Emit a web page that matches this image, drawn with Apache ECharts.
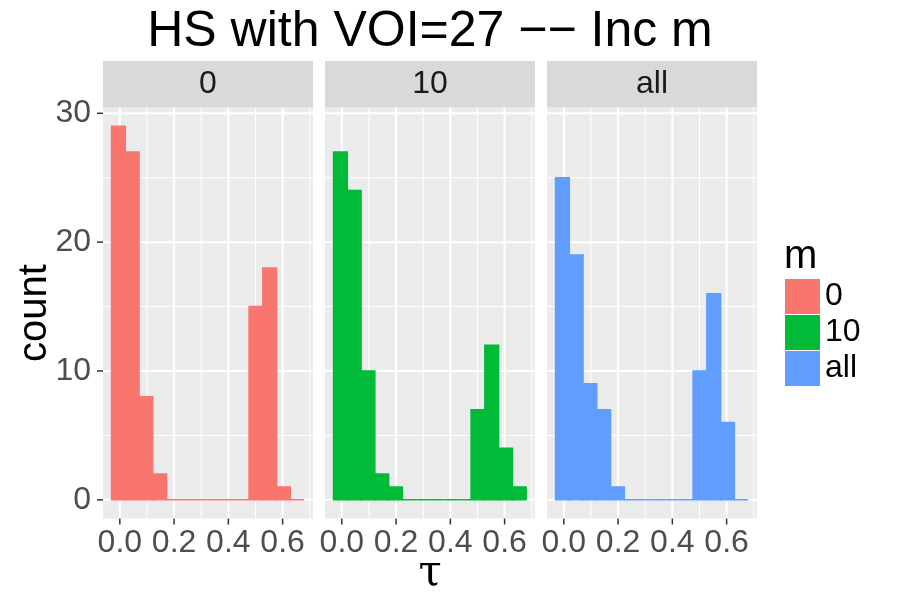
<!DOCTYPE html>
<html>
<head>
<meta charset="utf-8">
<title>HS with VOI=27 -- Inc m</title>
<script src="https://cdn.jsdelivr.net/npm/echarts@6/dist/echarts.min.js"></script>
<style>
  html, body { margin: 0; padding: 0; background: #ffffff; }
  #chart { width: 900px; height: 600px; }
</style>
</head>
<body>
<div id="chart"></div>
<script>
const mLevels = ['0', '10', 'all']
const binEdges = [-0.0305, 0.0202, 0.0709, 0.1216, 0.1723, 0.2230, 0.2737, 0.3244,
  0.3751, 0.4258, 0.4765, 0.5272, 0.5779, 0.6286, 0.6793]
const counts0 = [29, 27, 8, 2, 0, 0, 0, 0, 0, 0, 15, 18, 1, 0]
const counts10 = [27, 24, 10, 2, 1, 0, 0, 0, 0, 0, 7, 12, 4, 1]
const countsAll = [25, 19, 9, 7, 1, 0, 0, 0, 0, 0, 10, 16, 6, 0]
const xBreaks = [0, 0.2, 0.4, 0.6]
const xMinorBreaks = [0.1, 0.3, 0.5, 0.7]
const yBreaks = [0, 10, 20, 30]
const yMinorBreaks = [5, 15, 25]

const COUNTS = [counts0, counts10, countsAll]
const FILLS = ['#F8766D', '#00BA38', '#619CFF']
const FONT = '"Liberation Sans", Arial, Helvetica, sans-serif'
const PANEL_BG = '#EBEBEB'
const STRIP_BG = '#D9D9D9'
const AXIS_TEXT = '#4D4D4D'
const TICK_COLOR = '#333333'

const X_MIN = -0.062
const X_MAX = 0.712
const Y_MIN = -1.45
const Y_MAX = 30.45

const PANEL_LEFT = [103, 325, 547]
const PANEL_WIDTH = 210
const PANEL_TOP = 107.5
const PANEL_HEIGHT = 411
const STRIP_TOP = 61
const TICK_LEN = 6

const isBreak = (v, step) => Math.abs(v / step - Math.round(v / step)) < 1e-6

function renderDeco(panelIndex) {
  return function (params, api) {
    const kind = api.value(0)
    const v = api.value(1)
    const major = kind === 0 || kind === 2
    const gridStyle = { stroke: '#ffffff', lineWidth: major ? 2 : 1 }
    const children = []

    if (kind === 0 || kind === 1) {
      const p = api.coord([v, Y_MIN])
      const q = api.coord([v, Y_MAX])
      children.push({ type: 'line', shape: { x1: p[0], y1: p[1], x2: q[0], y2: q[1] }, style: gridStyle })
      if (major) {
        children.push({
          type: 'line',
          shape: { x1: p[0], y1: p[1], x2: p[0], y2: p[1] + TICK_LEN },
          style: { stroke: TICK_COLOR, lineWidth: 1.5 }
        })
      }
    } else {
      const p = api.coord([X_MIN, v])
      const q = api.coord([X_MAX, v])
      children.push({ type: 'line', shape: { x1: p[0], y1: p[1], x2: q[0], y2: q[1] }, style: gridStyle })
      if (major && panelIndex === 0) {
        children.push({
          type: 'line',
          shape: { x1: p[0] - TICK_LEN, y1: p[1], x2: p[0], y2: p[1] },
          style: { stroke: TICK_COLOR, lineWidth: 1.5 }
        })
      }
    }
    return { type: 'group', children }
  }
}

function renderBar(color) {
  return function (params, api) {
    const p0 = api.coord([api.value(0), 0])
    const p1 = api.coord([api.value(1), api.value(2)])
    return {
      type: 'rect',
      shape: { x: p0[0], y: p1[1], width: p1[0] - p0[0], height: p0[1] - p1[1] },
      style: { fill: color, stroke: color, lineWidth: 1.5 }
    }
  }
}

const decoData = [
  ...xBreaks.map(v => [0, v]),
  ...xMinorBreaks.map(v => [1, v]),
  ...yBreaks.map(v => [2, v]),
  ...yMinorBreaks.map(v => [3, v])
]

const grids = []
const xAxes = []
const yAxes = []
const series = []
const graphics = []

mLevels.forEach((level, i) => {
  grids.push({
    left: PANEL_LEFT[i],
    top: PANEL_TOP,
    width: PANEL_WIDTH,
    height: PANEL_HEIGHT,
    show: true,
    backgroundColor: PANEL_BG,
    borderWidth: 0
  })

  xAxes.push({
    type: 'value',
    gridIndex: i,
    min: X_MIN,
    max: X_MAX,
    splitNumber: 4,
    axisLine: { show: false },
    axisTick: { show: false },
    splitLine: { show: false },
    axisLabel: {
      margin: 9,
      color: AXIS_TEXT,
      fontSize: 32,
      fontFamily: FONT,
      showMinLabel: false,
      showMaxLabel: false,
      formatter: v => (xBreaks.some(b => Math.abs(b - v) < 1e-6) ? v.toFixed(1) : '')
    }
  })

  yAxes.push({
    type: 'value',
    gridIndex: i,
    min: Y_MIN,
    max: Y_MAX,
    splitNumber: 3,
    axisLine: { show: false },
    axisTick: { show: false },
    splitLine: { show: false },
    axisLabel: {
      show: i === 0,
      margin: 12,
      color: AXIS_TEXT,
      fontSize: 32,
      fontFamily: FONT,
      showMinLabel: false,
      showMaxLabel: false,
      formatter: v => (v >= 0 && isBreak(v, 10) && yBreaks.includes(Math.round(v)) ? String(Math.round(v)) : '')
    }
  })

  series.push({
    name: 'grid-' + level,
    type: 'custom',
    xAxisIndex: i,
    yAxisIndex: i,
    silent: true,
    clip: false,
    z: 1,
    renderItem: renderDeco(i),
    data: decoData
  })

  series.push({
    name: level,
    type: 'custom',
    xAxisIndex: i,
    yAxisIndex: i,
    silent: true,
    z: 2,
    itemStyle: { color: FILLS[i] },
    encode: { x: [0, 1], y: 2 },
    renderItem: renderBar(FILLS[i]),
    data: COUNTS[i].map((c, k) => [binEdges[k], binEdges[k + 1], c])
  })

  // facet strip
  graphics.push({
    type: 'rect',
    shape: { x: PANEL_LEFT[i], y: STRIP_TOP, width: PANEL_WIDTH, height: PANEL_TOP - STRIP_TOP },
    style: { fill: STRIP_BG },
    silent: true
  })
  graphics.push({
    type: 'text',
    x: PANEL_LEFT[i] + PANEL_WIDTH / 2,
    y: STRIP_TOP + (PANEL_TOP - STRIP_TOP) / 2,
    style: {
      text: level,
      font: '32px ' + FONT,
      fill: '#1A1A1A',
      align: 'center',
      verticalAlign: 'middle'
    },
    silent: true
  })
})

graphics.push({
  type: 'text',
  x: 430,
  y: 32,
  style: { text: 'HS with VOI=27 \u2212\u2212 Inc m', font: '50px ' + FONT, fill: '#000000', align: 'center', verticalAlign: 'middle' },
  silent: true
})
graphics.push({
  type: 'text',
  x: 35,
  y: PANEL_TOP + PANEL_HEIGHT / 2,
  rotation: Math.PI / 2,
  style: { text: 'count', font: '40px ' + FONT, fill: '#000000', align: 'center', verticalAlign: 'middle' },
  silent: true
})
graphics.push({
  type: 'text',
  x: 430,
  y: 574,
  style: { text: '\u03c4', font: '42px "DejaVu Serif", "Liberation Serif", serif', fill: '#000000', align: 'center', verticalAlign: 'middle' },
  silent: true
})
graphics.push({
  type: 'text',
  x: 784,
  y: 257,
  style: { text: 'm', font: '40px ' + FONT, fill: '#000000', align: 'left', verticalAlign: 'middle' },
  silent: true
})

const chart = echarts.init(document.getElementById('chart'), null, { renderer: 'canvas' })
chart.setOption({
  animation: false,
  backgroundColor: '#ffffff',
  legend: {
    data: mLevels,
    orient: 'vertical',
    left: 785,
    top: 279,
    padding: 0,
    itemWidth: 35,
    itemHeight: 35,
    itemGap: 1,
    icon: 'rect',
    selectedMode: false,
    textStyle: { fontSize: 32, fontFamily: FONT, color: '#000000', lineHeight: 35 }
  },
  grid: grids,
  xAxis: xAxes,
  yAxis: yAxes,
  series,
  graphic: graphics
})
</script>
</body>
</html>
